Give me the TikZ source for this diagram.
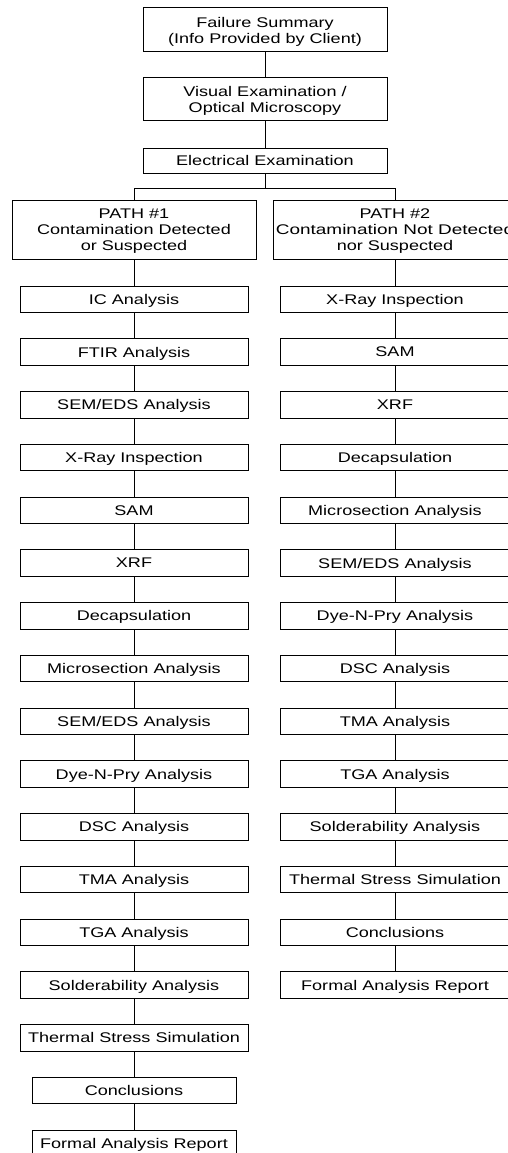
\documentclass[tikz,border=0pt]{standalone}
\usepackage{fontspec}
\setmainfont{Liberation Sans}[FakeStretch=1.29]
\begin{document}
\begin{tikzpicture}[x=1pt,y=-1pt,
  box/.style={draw=black, line width=1pt, fill=white, minimum height=26.5,
    inner sep=0pt, text depth=0pt, align=center,
    font=\fontsize{14}{16}\selectfont},
  wide/.style={box, minimum width=228},
  rwide/.style={box, minimum width=229},
  top/.style={box, minimum width=244},
  narrow/.style={box, minimum width=204},
  link/.style={draw=black, line width=1pt}]
\useasboundingbox (0,0) rectangle (508,1153);
\clip (0,0) rectangle (508,1153);

% common trunk
\node[top, minimum height=44] (fs) at (265,30) {Failure Summary\\(Info Provided by Client)};
\node[top, minimum height=43] (ve) at (265,99.5) {Visual Examination /\\Optical Microscopy};
\node[top, minimum height=25] (ee) at (265,160.5) {Electrical Examination};
\coordinate (bus) at (265,188);

% the two paths
\node[top, minimum height=59] (p1) at (134,229.5) {PATH \#1\\Contamination Detected\\or Suspected};
\node[top, minimum height=59] (p2) at (395,229.5) {PATH \#2\\\scalebox{1.05}[1]{Contamination Not Detected}\\nor Suspected};

\draw[link] (fs) -- (ve);
\draw[link] (ve) -- (ee);
\draw[link] (ee) -- (bus);
\draw[link] (p1.north) -- (p1.north |- bus) -- (p2.north |- bus) -- (p2.north);

% path 1 steps
\foreach \t [count=\i from 0] in {IC Analysis, FTIR Analysis, SEM/EDS Analysis,
    X-Ray Inspection, SAM, XRF, Decapsulation, Microsection Analysis,
    SEM/EDS Analysis, Dye-N-Pry Analysis, DSC Analysis, TMA Analysis,
    TGA Analysis, Solderability Analysis, Thermal Stress Simulation}
  \node[wide] (L\i) at (134,299.25+52.75*\i) {\t};
\node[narrow] (L15) at (134,1090.5) {Conclusions};
\node[narrow] (L16) at (134,1143.25) {Formal Analysis Report};

% path 2 steps
\foreach \t [count=\i from 0] in {X-Ray Inspection, SAM, XRF, Decapsulation,
    Microsection Analysis, SEM/EDS Analysis, Dye-N-Pry Analysis, DSC Analysis,
    TMA Analysis, TGA Analysis, Solderability Analysis,
    Thermal Stress Simulation, Conclusions, Formal Analysis Report}
  \node[rwide] (R\i) at (395,299.25+52.75*\i) {\t};

% connectors down each column
\draw[link] (p1) -- (L0);
\foreach \i [evaluate=\i as \j using int(\i+1)] in {0,...,15}
  \draw[link] (L\i) -- (L\j);
\draw[link] (p2) -- (R0);
\foreach \i [evaluate=\i as \j using int(\i+1)] in {0,...,12}
  \draw[link] (R\i) -- (R\j);
\end{tikzpicture}
\end{document}
